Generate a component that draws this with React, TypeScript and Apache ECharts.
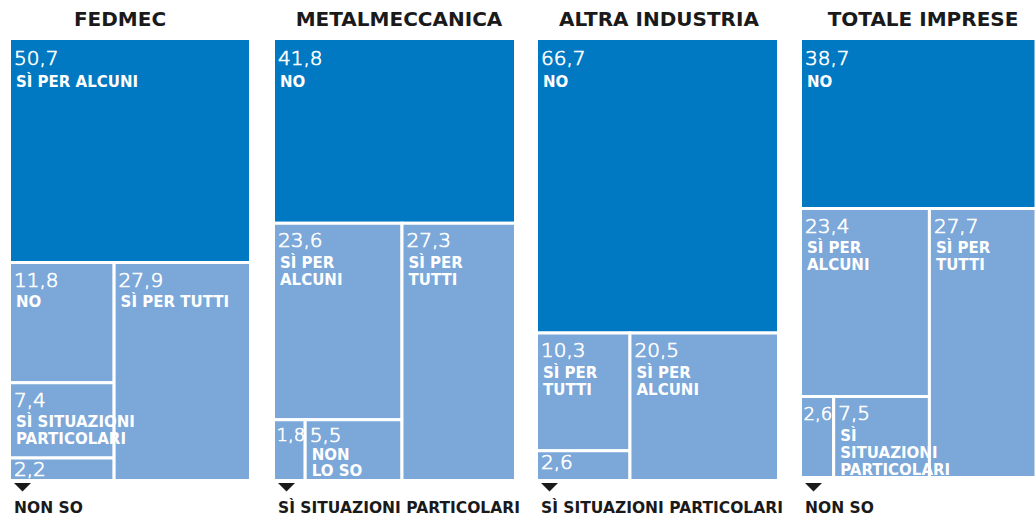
import React, { useEffect, useRef } from "react";
import * as echarts from "echarts";

const panelTitles = ["FEDMEC", "METALMECCANICA", "ALTRA INDUSTRIA", "TOTALE IMPRESE"];

const fedmecCategories = ["SÌ PER ALCUNI", "NO", "SÌ PER TUTTI", "SÌ SITUAZIONI\nPARTICOLARI", "NON SO"];
const fedmecValues = [50.7, 11.8, 27.9, 7.4, 2.2];

const metalCategories = ["NO", "SÌ PER\nALCUNI", "SÌ PER\nTUTTI", "SÌ SITUAZIONI PARTICOLARI", "NON\nLO SO"];
const metalValues = [41.8, 23.6, 27.3, 1.8, 5.5];

const altraCategories = ["NO", "SÌ PER\nTUTTI", "SÌ PER\nALCUNI", "SÌ SITUAZIONI PARTICOLARI"];
const altraValues = [66.7, 10.3, 20.5, 2.6];

const totaleCategories = ["NO", "SÌ PER\nALCUNI", "SÌ PER\nTUTTI", "NON SO", "SÌ\nSITUAZIONI\nPARTICOLARI"];
const totaleValues = [38.7, 23.4, 27.7, 2.6, 7.5];

// index of the small cell whose name is written under the panel
const calloutIndex = [4, 3, 3, 3];

// slice-and-dice structure of each panel (indices into the arrays above)
type Node = number | { d: "v" | "h"; c: Node[] };
const fedmecTree: Node = { d: "v", c: [0, { d: "h", c: [{ d: "v", c: [1, 3, 4] }, 2] }] };
const metalTree: Node = { d: "v", c: [0, { d: "h", c: [{ d: "v", c: [1, { d: "h", c: [3, 4] }] }, 2] }] };
const altraTree: Node = { d: "v", c: [0, { d: "h", c: [{ d: "v", c: [1, 3] }, 2] }] };
const totaleTree: Node = { d: "v", c: [0, { d: "h", c: [{ d: "v", c: [1, { d: "h", c: [3, 4] }] }, 2] }] };

const panels = [
  { cats: fedmecCategories, vals: fedmecValues, tree: fedmecTree },
  { cats: metalCategories, vals: metalValues, tree: metalTree },
  { cats: altraCategories, vals: altraValues, tree: altraTree },
  { cats: totaleCategories, vals: totaleValues, tree: totaleTree },
];

// layout boxes (pixels)
const boxes = [
  { left: 11, top: 40, width: 238, height: 439, titleX: 120 },
  { left: 275, top: 40, width: 239, height: 439, titleX: 399 },
  { left: 538, top: 40, width: 239, height: 439, titleX: 659 },
  { left: 802, top: 40, width: 239, height: 436, titleX: 923 },
];

const DARK = "#0079c2";
const LIGHT = "#7ba7d9";
const LABEL_FONT = "DejaVu Sans";
const NUMBER_FONT = "DejaVu Sans";

function total(n: Node, vals: number[]): number {
  if (typeof n === "number") return vals[n];
  return n.c.reduce((s, k) => s + total(k, vals), 0);
}

function layout(n: Node, vals: number[], x0: number, y0: number, x1: number, y1: number, out: number[][]) {
  if (typeof n === "number") {
    out.push([x0, y0, x1, y1, n]);
    return;
  }
  const t = total(n, vals);
  let acc = 0;
  n.c.forEach((k) => {
    const f0 = acc / t;
    acc += total(k, vals);
    const f1 = acc / t;
    if (n.d === "v") layout(k, vals, x0, y0 + (y1 - y0) * f0, x1, y0 + (y1 - y0) * f1, out);
    else layout(k, vals, x0 + (x1 - x0) * f0, y0, x0 + (x1 - x0) * f1, y1, out);
  });
}

const fmt = (v: number) => v.toFixed(1).replace(".", ",");

export default function App() {
  const ref = useRef<HTMLDivElement>(null);
  useEffect(() => {
    if (!ref.current) return;
    const chart = echarts.init(ref.current, undefined, { renderer: "svg" });

    const grids = boxes.map((b) => ({
      left: b.left - 1.5,
      top: b.top - 1.5,
      width: b.width + 3,
      height: b.height + 3,
    }));
    const xAxes = boxes.map((_, i) => ({ type: "value", min: 0, max: 1, show: false, gridIndex: i }));
    const yAxes = boxes.map((_, i) => ({ type: "value", min: 0, max: 1, show: false, inverse: true, gridIndex: i }));

    const series = panels.map((p, pi) => {
      const rects: number[][] = [];
      layout(p.tree, p.vals, 0, 0, 1, 1, rects);
      return {
        type: "custom",
        xAxisIndex: pi,
        yAxisIndex: pi,
        clip: false,
        encode: { x: [0, 2], y: [1, 3] },
        data: rects,
        renderItem: (params: any, api: any) => {
          const idx = api.value(4);
          const c0 = api.coord([api.value(0), api.value(1)]);
          const c1 = api.coord([api.value(2), api.value(3)]);
          const x = c0[0];
          const y = c0[1];
          const w = c1[0] - c0[0];
          const h = c1[1] - c0[1];
          const first = idx === 0;
          const narrow = w < 40;
          const short = h < 70;
          const isCallout = idx === calloutIndex[pi];
          const padTop = first ? 9.5 : h < 30 ? 1 : short ? 5 : 7;
          const numY = y + padTop;
          const children: any[] = [
            {
              type: "rect",
              shape: { x, y, width: w, height: h },
              style: { fill: first ? DARK : LIGHT, stroke: "#ffffff", lineWidth: 3 },
              z2: 0,
            },
            {
              type: "text",
              x: x + (narrow ? 3 : 4.5),
              y: numY + (narrow ? 1 : 0),
              z2: 10,
              style: {
                text: fmt(p.vals[idx]),
                fill: "#ffffff",
                stroke: "#ffffff",
                lineWidth: 0.7,
                fontSize: narrow ? 18 : 20,
                fontFamily: NUMBER_FONT,
                fontWeight: 200,
                verticalAlign: "top",
                align: "left",
              },
            },
          ];
          if (!isCallout) {
            children.push({
              type: "text",
              x: x + 6.5,
              y: numY + (first ? 25 : short ? 22 : 24),
              z2: 10,
              style: {
                text: p.cats[idx],
                fill: "#ffffff",
                fontSize: 15,
                lineHeight: short ? 16.5 : 17,
                fontFamily: LABEL_FONT,
                fontWeight: "bold",
                verticalAlign: "top",
                align: "left",
              },
            });
          } else {
            const tx = x + 1.5 + 3;
            children.push({
              type: "polygon",
              z2: 10,
              shape: { points: [[tx, 483], [tx + 17, 483], [tx + 8.5, 491.5]] },
              style: { fill: "#1a1a1a" },
            });
            children.push({
              type: "text",
              x: tx,
              y: 507.5,
              z2: 10,
              style: {
                text: p.cats[idx],
                fill: "#1a1a1a",
                fontSize: 15.5,
                fontFamily: LABEL_FONT,
                fontWeight: "bold",
                verticalAlign: "middle",
                align: "left",
              },
            });
          }
          return { type: "group", children };
        },
      };
    });

    const graphic = boxes.map((b, i) => ({
      type: "text",
      x: b.titleX,
      y: 19,
      style: {
        text: panelTitles[i],
        fill: "#1a1a1a",
        fontSize: 20,
        fontFamily: LABEL_FONT,
        fontWeight: "bold",
        align: "center",
        verticalAlign: "middle",
      },
    }));

    chart.setOption({
      animation: false,
      backgroundColor: "#ffffff",
      grid: grids,
      xAxis: xAxes,
      yAxis: yAxes,
      series,
      graphic,
    } as any);

    return () => chart.dispose();
  }, []);

  return (
    <div
      ref={ref}
      style={{ position: "absolute", left: 0, top: 0, width: 1036, height: 515, background: "#ffffff" }}
    />
  );
}
